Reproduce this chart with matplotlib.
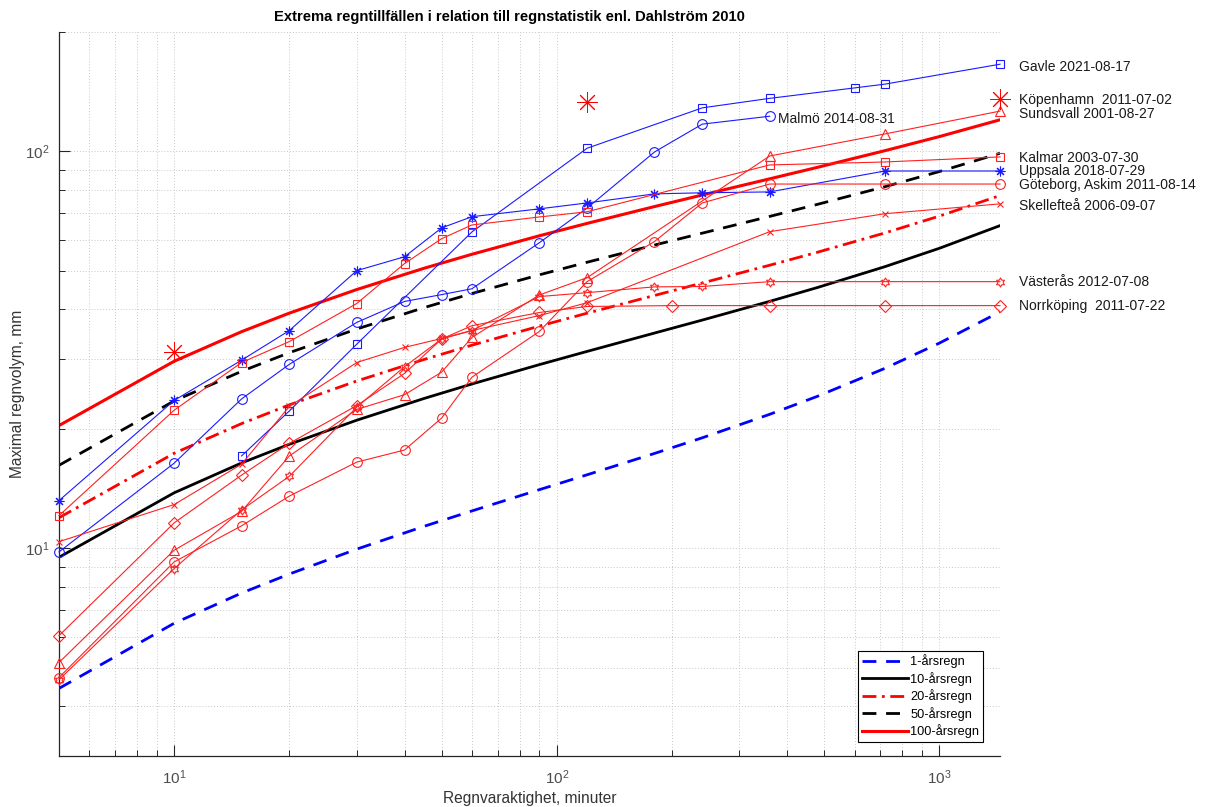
import numpy as np
import matplotlib
matplotlib.use("Agg")
import matplotlib.pyplot as plt
from matplotlib.path import Path
from matplotlib.ticker import NullFormatter, LogLocator

plt.rcParams['font.family'] = ['Liberation Sans', 'DejaVu Sans']

# ---------------- data ----------------
# statistic curves (Dahlström 2010)
t_stat = [5, 10, 15, 20, 30, 45, 60, 90, 120, 180, 240, 360, 480, 720, 1000, 1440]
v_1 = [4.44, 6.48, 7.72, 8.62, 9.96, 11.37, 12.43, 14.06, 15.33, 17.35, 19.00, 21.77, 24.17, 28.42, 32.91, 39.45]
v_10 = [9.50, 13.81, 16.42, 18.30, 21.04, 23.87, 25.96, 29.04, 31.36, 34.88, 37.61, 41.92, 45.43, 51.26, 57.04, 65.05]
v_20 = [11.95, 17.37, 20.63, 23.00, 26.41, 29.93, 32.51, 36.31, 39.14, 43.38, 46.64, 51.70, 55.74, 62.34, 68.75, 77.46]
v_50 = [16.20, 23.53, 27.94, 31.13, 35.71, 40.43, 43.87, 48.89, 52.60, 58.11, 62.27, 68.62, 73.59, 81.52, 89.02, 98.96]
v_100 = [20.40, 29.62, 35.16, 39.16, 44.90, 50.80, 55.09, 61.32, 65.90, 72.65, 77.70, 85.33, 91.22, 100.46, 109.04, 120.19]
stat_labels = ['1-årsregn', '10-årsregn', '20-årsregn', '50-årsregn', '100-årsregn']

# observed events
t_gavle = [15, 20, 30, 60, 120, 240, 360, 600, 720, 1440]
v_gavle = [17.1, 22.2, 32.7, 62.7, 101.9, 128.8, 136.1, 144.6, 147.8, 165.9]

t_malmo = [5, 10, 15, 20, 30, 40, 50, 60, 90, 120, 180, 240, 360]
v_malmo = [9.8, 16.4, 23.8, 29.1, 37.1, 41.9, 43.6, 45.1, 58.9, 72.0, 99.7, 117.2, 122.7]

t_uppsala = [5, 10, 15, 20, 30, 40, 50, 60, 90, 120, 180, 240, 360, 720, 1440]
v_uppsala = [13.2, 23.6, 29.8, 35.4, 50.1, 54.3, 64.2, 68.5, 71.7, 74.2, 78.2, 78.7, 79.1, 89.3, 89.3]

t_kopenhamn = [10, 120, 1440]
v_kopenhamn = [31.2, 133.0, 135.5]

t_sundsvall = [5, 10, 15, 20, 30, 40, 50, 60, 90, 120, 360, 720, 1440]
v_sundsvall = [5.16, 9.9, 12.4, 17.1, 22.4, 24.4, 27.8, 34.0, 43.5, 48.1, 97.4, 110.7, 126.4]

t_kalmar = [5, 10, 15, 20, 30, 40, 50, 60, 90, 120, 360, 720, 1440]
v_kalmar = [12.1, 22.3, 29.4, 33.2, 41.4, 52.2, 60.3, 65.3, 68.4, 70.5, 92.5, 94.1, 96.9]

t_goteborg = [5, 10, 15, 20, 30, 40, 50, 60, 90, 120, 180, 240, 360, 720, 1440]
v_goteborg = [4.73, 9.25, 11.4, 13.55, 16.5, 17.7, 21.3, 27.0, 35.2, 47.0, 59.3, 74.2, 82.8, 82.8, 82.8]

t_skelleftea = [5, 10, 15, 20, 30, 40, 50, 60, 90, 120, 360, 720, 1440]
v_skelleftea = [10.4, 12.9, 16.3, 22.8, 29.4, 32.1, 33.8, 35.4, 38.6, 41.6, 62.8, 69.7, 73.8]

t_vasteras = [5, 10, 15, 20, 30, 40, 50, 60, 90, 120, 180, 240, 360, 720, 1440]
v_vasteras = [4.67, 8.9, 12.5, 15.2, 22.7, 28.7, 33.7, 35.4, 43.1, 44.1, 45.6, 45.7, 47.0, 47.0, 47.0]

t_norrkoping = [5, 10, 15, 20, 30, 40, 50, 60, 90, 120, 200, 360, 720, 1440]
v_norrkoping = [6.03, 11.6, 15.3, 18.4, 22.9, 27.6, 33.7, 36.4, 39.3, 40.7, 40.9, 40.9, 40.9, 40.9]

event_labels = ['Gavle 2021-08-17', 'Köpenhamn  2011-07-02', 'Sundsvall 2001-08-27',
                'Kalmar 2003-07-30', 'Uppsala 2018-07-29', 'Göteborg, Askim 2011-08-14',
                'Skellefteå 2006-09-07', 'Västerås 2012-07-08', 'Norrköping  2011-07-22']
event_label_y = [163.5, 134.6, 124.3, 96.3, 89.3, 82.4, 72.9, 46.8, 40.8]
malmo_label = 'Malmö 2014-08-31'

# ---------------- figure ----------------
W, H = 1210, 807
fig = plt.figure(figsize=(W / 100, H / 100), dpi=100)
ax = fig.add_axes([59 / W, (H - 756) / H, (1000 - 59) / W, (756 - 32) / H])
ax.set_xscale('log')
ax.set_yscale('log')
ax.set_xlim(5, 1440)
ax.set_ylim(3, 200)

# hexagram marker
ang = np.pi / 2 + np.arange(12) * np.pi / 6
rad = np.where(np.arange(12) % 2 == 0, 1.0, 0.5774)
hverts = np.column_stack([rad * np.cos(ang), rad * np.sin(ang)])
hverts = np.vstack([hverts, hverts[:1]])
hexagram = Path(hverts, closed=True)
asterisk = (8, 2, 0)

ev_lw = 0.8
ms = 6.5
red = '#ff2020'
blue = '#1a1aff'

def ev(t, v, color, marker, msz=ms, ls='-'):
    ax.plot(t, v, color=color, lw=ev_lw, ls=ls, marker=marker, ms=msz,
            mfc='none', mec=color, mew=0.8, clip_on=False, zorder=3)

# statistic curves
h1, = ax.plot(t_stat, v_1, color='#0000ff', lw=2.0, ls=(0, (5, 3.5)), zorder=2)
h10, = ax.plot(t_stat, v_10, color='black', lw=2.0, ls='-', zorder=2)
h20, = ax.plot(t_stat, v_20, color='#ff0000', lw=2.0, ls=(0, (5, 2, 1, 2)), zorder=2)
h50, = ax.plot(t_stat, v_50, color='black', lw=2.0, ls=(0, (5, 3.5)), zorder=2)
h100, = ax.plot(t_stat, v_100, color='#ff0000', lw=2.2, ls='-', zorder=2)

ev(t_gavle, v_gavle, blue, 's', msz=5.5)
ev(t_malmo, v_malmo, blue, 'o', msz=7)
ev(t_uppsala, v_uppsala, blue, asterisk, msz=7)
ev(t_sundsvall, v_sundsvall, red, '^', msz=7)
ev(t_kalmar, v_kalmar, red, 's', msz=5.5)
ev(t_goteborg, v_goteborg, red, 'o', msz=7)
ev(t_skelleftea, v_skelleftea, red, 'x', msz=5)
ev(t_vasteras, v_vasteras, red, hexagram, msz=6.5)
ev(t_norrkoping, v_norrkoping, red, 'D', msz=6)
ax.plot(t_kopenhamn, v_kopenhamn, ls='none', marker=asterisk, ms=15, mec='#ff0000',
        mew=0.7, clip_on=False, zorder=3)

# labels
for lab, yv in zip(event_labels, event_label_y):
    ax.text(1610, yv, lab, fontsize=10, va='center', ha='left', color='#1a1a1a', clip_on=False)
ax.text(378, 120.7, malmo_label, fontsize=10, va='center', ha='left', color='#1a1a1a')

# axes styling
for s in ['top', 'right']:
    ax.spines[s].set_visible(False)
for s in ['left', 'bottom']:
    ax.spines[s].set_color('#262626')
    ax.spines[s].set_linewidth(0.9)

ax.xaxis.set_major_locator(LogLocator(base=10, numticks=10))
ax.yaxis.set_major_locator(LogLocator(base=10, numticks=10))
ax.xaxis.set_minor_locator(LogLocator(base=10, subs=np.arange(2, 10), numticks=20))
ax.yaxis.set_minor_locator(LogLocator(base=10, subs=np.arange(2, 10), numticks=20))
ax.xaxis.set_minor_formatter(NullFormatter())
ax.yaxis.set_minor_formatter(NullFormatter())
ax.tick_params(which='major', direction='in', length=8, width=0.8, colors='#262626',
               labelcolor='#4d4d4d', labelsize=11)
ax.tick_params(which='minor', direction='in', length=4.5, width=0.7, colors='#262626')
ax.tick_params(axis='x', which='major', pad=9)
ax.tick_params(axis='y', which='major', pad=7)
ax.grid(True, which='both', ls=(0, (1, 2)), color='#c8c8c8', lw=0.7, zorder=0)
ax.set_axisbelow(True)

ax.set_xlabel('Regnvaraktighet, minuter', fontsize=11.2, color='#333333', labelpad=3)
ax.set_ylabel('Maximal regnvolym, mm', fontsize=11.2, color='#333333')
ax.yaxis.set_label_coords(-0.036, 0.5)
fig.text(509 / W, 1 - 17 / H, 'Extrema regntillfällen i relation till regnstatistik enl. Dahlström 2010',
         fontsize=10.6, fontweight='bold', ha='center', va='center', color='black')

leg = ax.legend([h1, h10, h20, h50, h100], stat_labels, loc='lower right',
                bbox_to_anchor=(0.982, 0.019), borderaxespad=0, fancybox=False,
                edgecolor='black', framealpha=1, fontsize=9.2, handlelength=3.6,
                handletextpad=0.2, labelspacing=0.28, borderpad=0.3)
leg.get_frame().set_linewidth(0.8)

fig.savefig('out.png', dpi=100)
